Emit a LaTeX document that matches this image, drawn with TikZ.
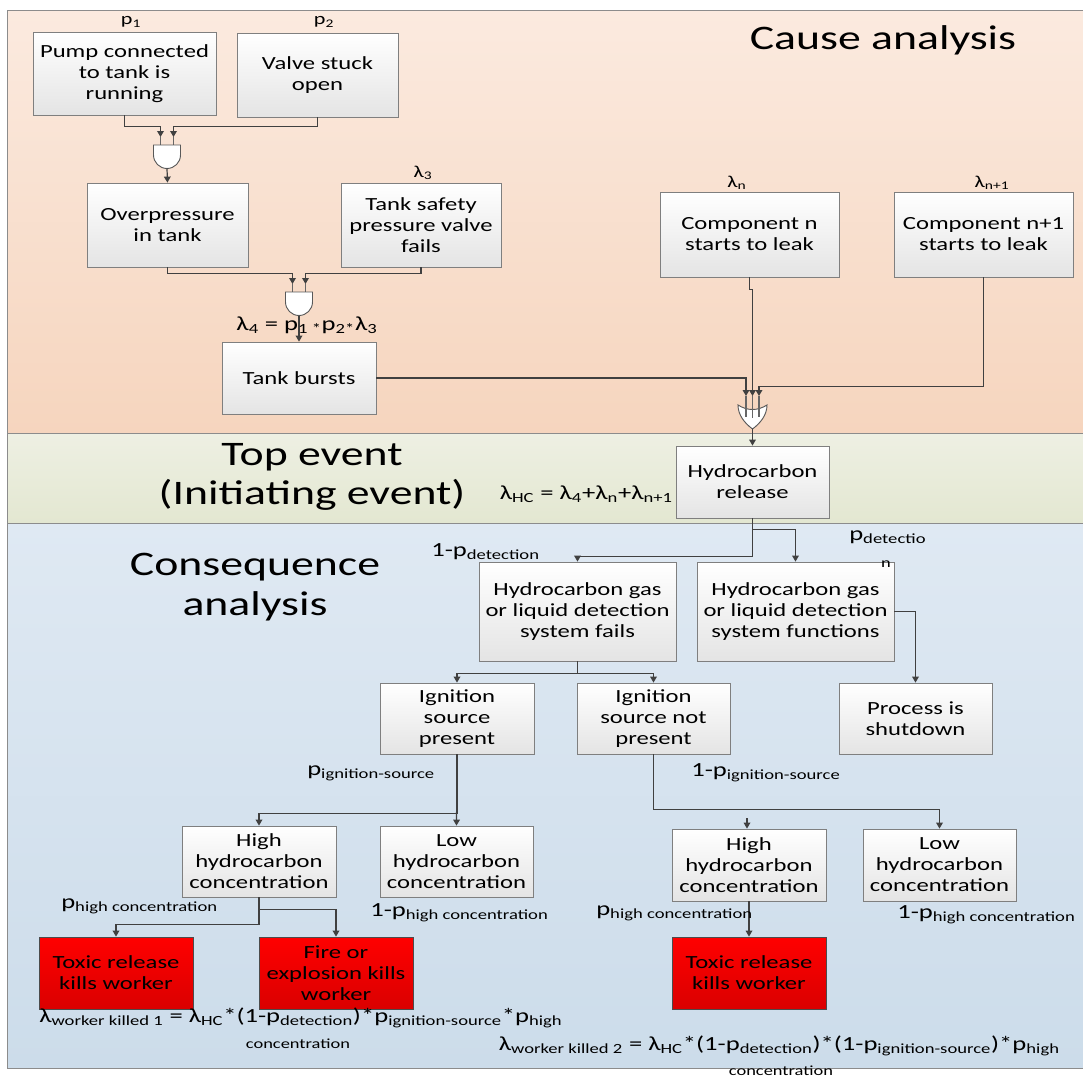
\documentclass[tikz,border=0pt]{standalone}
\usepackage{fontspec}
\setmainfont{Carlito}[FakeStretch=1.33]
\usetikzlibrary{arrows.meta,shadows}

\definecolor{connc}{HTML}{404040}
\definecolor{boxline}{HTML}{7F7F7F}
\definecolor{boxbot}{HTML}{E4E4E4}
\definecolor{causetop}{HTML}{FBEADF}
\definecolor{causebot}{HTML}{F6D5BE}
\definecolor{toptop}{HTML}{EEF0E3}
\definecolor{topbot}{HTML}{E3E7D1}
\definecolor{constop}{HTML}{DFE9F3}
\definecolor{consbot}{HTML}{CCDCEA}
\definecolor{panelline}{HTML}{8C8C8C}
\definecolor{redtop}{HTML}{FF0000}
\definecolor{redbot}{HTML}{DA0000}

\newcommand\bxfont{\fontsize{13.9}{15.8}\selectfont}
\newcommand\lbfont{\fontsize{15}{17}\selectfont}
\newcommand\lbsfont{\fontsize{12.5}{14}\selectfont}
\newcommand\subfont{\fontsize{10.4}{12}\selectfont}
\newcommand\ttlfont{\fontsize{25.8}{27.5}\selectfont}

% AND gate: name, x of centre, y of flat top
\newcommand\andgate[3]{%
  \coordinate (#1-in1) at (#2-6.5,#3-8);
  \coordinate (#1-in2) at (#2+6.5,#3-8);
  \coordinate (#1-out) at (#2,#3+23.5);
  \draw[gateline] (#2-6.5,#3-8) -- (#2-6.5,#3) (#2+6.5,#3-8) -- (#2+6.5,#3);
  \draw[gate] (#2-13.5,#3) -- (#2-13.5,#3+10)
    .. controls (#2-13.5,#3+17.45) and (#2-7.45,#3+23.5) .. (#2,#3+23.5)
    .. controls (#2+7.45,#3+23.5) and (#2+13.5,#3+17.45) .. (#2+13.5,#3+10)
    -- (#2+13.5,#3) -- cycle;
}
% OR gate with three inputs: name, x of centre, y of top corners
\newcommand\orgate[3]{%
  \coordinate (#1-in1) at (#2-6.5,#3-9);
  \coordinate (#1-in2) at (#2,#3-9);
  \coordinate (#1-in3) at (#2+6.5,#3-9);
  \coordinate (#1-out) at (#2,#3+24);
  \draw[gate] (#2-14.5,#3) .. controls (#2-5,#3+6) and (#2+5,#3+6) .. (#2+14.5,#3)
    .. controls (#2+14.5,#3+10) and (#2+8,#3+18) .. (#2,#3+24)
    .. controls (#2-8,#3+18) and (#2-14.5,#3+10) .. cycle;
  \draw[gateline] (#2-6.5,#3-9) -- (#2-6.5,#3+12) (#2,#3-9) -- (#2,#3+13)
    (#2+6.5,#3-9) -- (#2+6.5,#3+12);
}

\begin{document}
\begin{tikzpicture}[x=0.75pt,y=-0.75pt,
  box/.style={draw=boxline, line width=0.6pt, top color=white, bottom color=boxbot,
    align=center, inner sep=0pt, font=\bxfont,
    drop shadow={shadow xshift=1pt, shadow yshift=-1pt, opacity=0.25}},
  redbox/.style={box, top color=redtop, bottom color=redbot, draw=black!70},
  wh/.style 2 args={minimum width=#1*0.75pt, minimum height=#2*0.75pt},
  conn/.style={draw=connc, line width=0.9pt, -{Triangle[length=4.5pt,width=5pt]}},
  gate/.style={draw=black!65, fill=white, line width=0.7pt},
  gateline/.style={draw=black!60, line width=0.8pt},
  lbl/.style={inner sep=0pt, font=\lbfont},
  lbs/.style={inner sep=0pt, font=\lbsfont},
  lsub/.style={inner sep=0pt, font=\subfont},
  ttl/.style={inner sep=0pt, font=\ttlfont, align=center}]

\useasboundingbox (0,0) rectangle (1083,1079);

% section panels
\path[draw=panelline, line width=0.6pt, top color=causetop, bottom color=causebot] (7,10) rectangle (1083,433);
\path[draw=panelline, line width=0.6pt, top color=toptop, bottom color=topbot] (7,433) rectangle (1083,523);
\path[draw=panelline, line width=0.6pt, top color=constop, bottom color=consbot] (7,523) rectangle (1083,1068);

\node[ttl] (tcause) at (883,40) {Cause analysis};
\node[ttl] (ttop) at (312,477) {Top event\\[1.5pt](Initiating event)};
\node[ttl] (tcons) at (255,587) {Consequence\\[2.5pt]analysis};

% cause analysis events
\node[box, wh={183}{83}] (pump) at (124.5,73.5) {Pump connected\\to tank is\\running};
\node[box, wh={161}{84}] (valve) at (317.5,75) {Valve stuck\\open};
\node[box, wh={161}{84}] (over) at (167.5,225) {Overpressure\\in tank};
\node[box, wh={160}{84}] (safety) at (421,225) {Tank safety\\pressure valve\\fails};
\node[box, wh={154}{72}] (burst) at (299,378) {Tank bursts};
\node[box, wh={179}{85}] (compn) at (749.5,234.5) {Component n\\starts to leak};
\node[box, wh={179}{85}] (compm) at (983.5,234.5) {Component n+1\\starts to leak};

\node[lbs] (lp1) at (131,22) {p\textsubscript{1}};
\node[lbs] (lp2) at (324,22) {p\textsubscript{2}};
\node[lbs] (ll3) at (423,173) {λ\textsubscript{3}};
\node[lbs] (lln) at (737,183) {λ\textsubscript{n}};
\node[lbs] (llm) at (992,183) {λ\textsubscript{n+1}};

% gates
\andgate{gA}{167}{145}
\andgate{gB}{299}{292}
\orgate{gO}{752.5}{405}

\draw[conn] (pump.south) -- ++(0,11) -| (gA-in1);
\draw[conn] (valve.south) -- ++(0,9) -| (gA-in2);
\draw[conn] (gA-out) -- (over.north);
\draw[conn] (over.south) -- ++(0,6) -| (gB-in1);
\draw[conn] (safety.south) -- ++(0,6) -| (gB-in2);
\draw[conn] (gB-out) -- (burst.north);
\node[lbl] (fl4) at (307,325) {λ\textsubscript{4} = p\textsubscript{1 *}p\textsubscript{2*}λ\textsubscript{3}};

\draw[conn] (burst.east) -| (gO-in1);
\draw[conn] (compn.south) -- ++(0,12) -| (gO-in2);
\draw[conn] (compm.south) -- ++(0,109) -| (gO-in3);

% top event
\node[box, wh={153}{72}] (hr) at (752.5,482) {Hydrocarbon\\release};
\draw[conn] (gO-out) -- (hr.north);
\node[lbl, anchor=east] (flhc) at (673,494) {λ\textsubscript{HC} = λ\textsubscript{4}+λ\textsubscript{n}+λ\textsubscript{n+1}};

% consequence analysis
\node[box, wh={197}{99}] (fails) at (577.5,611.5) {Hydrocarbon gas\\or liquid detection\\system fails};
\node[box, wh={197}{99}] (func) at (795.5,611.5) {Hydrocarbon gas\\or liquid detection\\system functions};
\node[box, wh={154}{71}] (ignp) at (457,718.5) {Ignition\\source\\present};
\node[box, wh={153}{71}] (ignn) at (653.5,718.5) {Ignition\\source not\\present};
\node[box, wh={153}{71}] (proc) at (915.5,718.5) {Process is\\shutdown};
\node[box, wh={154}{71}] (high1) at (259,861.5) {High\\hydrocarbon\\concentration};
\node[box, wh={153}{71}] (low1) at (456.5,861.5) {Low\\hydrocarbon\\concentration};
\node[box, wh={154}{72}] (high2) at (749,865) {High\\hydrocarbon\\concentration};
\node[box, wh={153}{72}] (low2) at (939.5,865) {Low\\hydrocarbon\\concentration};
\node[redbox, wh={154}{72}] (tox1) at (116,973) {Toxic release\\kills worker};
\node[redbox, wh={154}{72}] (fire) at (336,973) {Fire or\\explosion kills\\worker};
\node[redbox, wh={154}{72}] (tox2) at (749,973) {Toxic release\\kills worker};

\draw[conn] (hr.south) -- ++(0,38) -| (fails.north);
\draw[conn] (hr.south) -- ++(0,11) -| (func.north);
\draw[conn] (fails.south) -- ++(0,12) -| (ignp.north);
\draw[conn] (fails.south) -- ++(0,12) -| (ignn.north);
\draw[conn] (func.east) -| (proc.north);
\draw[conn] (ignp.south) -- ++(0,59) -| (high1.north);
\draw[conn] (ignp.south) -- (low1.north);
\draw[conn] (ignn.south) -- ++(0,55) -| (low2.north);
\coordinate (stub) at (747,818);
\draw[conn] (stub) -- (stub |- high2.north);
\draw[conn] (high1.south) -- ++(0,12) -| (fire.north);
\draw[conn] (high1.south) -- ++(0,27) -| (tox1.north);
\draw[conn] (high2.south) -- (tox2.north);

\node[lbl, anchor=east] (lnd) at (540,552) {1-p\textsubscript{detection}};
\node[lbl, anchor=west] (lpd) at (849,537) {p\textsubscript{detectio}};
\node[lsub] (lpdn) at (886,564) {n};
\node[lbl, anchor=west] (lpi) at (307,773) {p\textsubscript{ignition-source}};
\node[lbl, anchor=west] (lni) at (691,773) {1-p\textsubscript{ignition-source}};
\node[lbl, anchor=west] (lph1) at (61,906) {p\textsubscript{high concentration}};
\node[lbl, anchor=west] (lnh1) at (370,913) {1-p\textsubscript{high concentration}};
\node[lbl, anchor=west] (lph2) at (596,913) {p\textsubscript{high concentration}};
\node[lbl, anchor=west] (lnh2) at (897,915) {1-p\textsubscript{high concentration}};

\node[lbl, anchor=west] (fw1) at (39,1018) {λ\textsubscript{worker killed 1} = λ\textsubscript{HC}*(1-p\textsubscript{detection})*p\textsubscript{ignition-source}*p\textsubscript{high}};
\node[lsub] (fw1c) at (298,1044) {concentration};
\node[lbl, anchor=east] (fw2) at (1060,1046) {λ\textsubscript{worker killed 2} = λ\textsubscript{HC}*(1-p\textsubscript{detection})*(1-p\textsubscript{ignition-source})*p\textsubscript{high}};
\node[lsub] (fw2c) at (781,1070.5) {concentration};

\end{tikzpicture}
\end{document}
